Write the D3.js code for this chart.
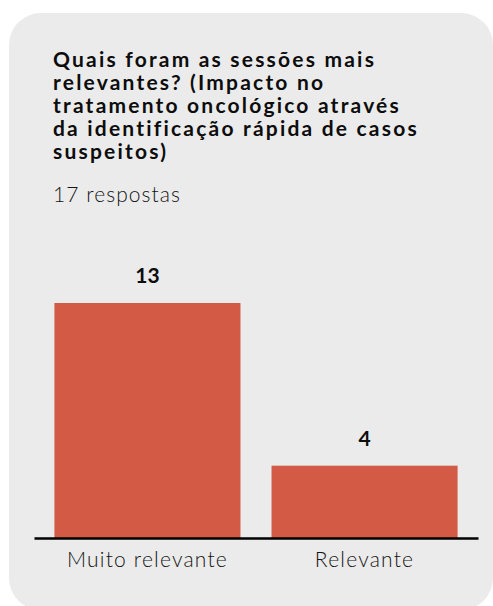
<!DOCTYPE html>
<html>
<head>
<meta charset="utf-8">
<script src="https://cdn.jsdelivr.net/npm/d3@7"></script>
<style>
	body { margin: 0; background: #fff; }
	svg { display: block; }
</style>
</head>
<body>
<div id="container"></div>
<script>
const titleLines = [
	'Quais foram as sessões mais',
	'relevantes? (Impacto no',
	'tratamento oncológico através',
	'da identificação rápida de casos',
	'suspeitos)'
];
const subtitle = '17 respostas';
const categories = ['Muito relevante', 'Relevante'];
const values = [13, 4];

const W = 493, H = 606;
const FONT = 'Lato, "Open Sans", sans-serif';
const BASELINE = 538;

// widen a text with letter spacing so that its widest line spans the wanted width
function fitWidth(sel, target, measure) {
	let w = 0, n = 1;
	(measure || sel).each(function() {
		const l = this.getComputedTextLength();
		if (l > w) { w = l; n = this.textContent.length; }
	});
	sel.attr('letter-spacing', Math.max(0, (target - w) / n).toFixed(2));
}

const svg = d3.select('#container').append('svg')
	.attr('width', W)
	.attr('height', H);

// card
svg.append('rect')
	.attr('x', 9)
	.attr('y', 13)
	.attr('width', 484)
	.attr('height', 597)
	.attr('rx', 32)
	.attr('fill', '#ebebeb');

// title
const title = svg.append('g')
	.attr('font-family', FONT)
	.attr('font-weight', 700)
	.attr('font-size', 21)
	.attr('fill', '#0d0d0d');
const lines = title.selectAll('text')
	.data(titleLines)
	.join('text')
	.attr('x', 53)
	.attr('y', (d, i) => 67 + i * 23)
	.text(d => d);
fitWidth(title, 366, lines);

const sub = svg.append('text')
	.attr('x', 53)
	.attr('y', 202)
	.attr('font-family', FONT)
	.attr('font-weight', 300)
	.attr('font-size', 21)
	.attr('fill', '#141414')
	.text(subtitle);
fitWidth(sub, 128);

const x = d3.scaleBand()
	.domain(categories)
	.range([34, 478])
	.paddingInner(0.143)
	.paddingOuter(0.094);

const y = d3.scaleLinear()
	.domain([0, d3.max(values)])
	.range([BASELINE, BASELINE - 235]);

const data = categories.map((c, i) => ({cat: c, value: values[i]}));

svg.append('g').selectAll('rect')
	.data(data)
	.join('rect')
	.attr('x', d => x(d.cat))
	.attr('y', d => y(d.value))
	.attr('width', x.bandwidth())
	.attr('height', d => y(0) - y(d.value))
	.attr('fill', '#d35a45');

svg.append('g').selectAll('text')
	.data(data)
	.join('text')
	.attr('x', d => x(d.cat) + x.bandwidth() / 2)
	.attr('y', d => y(d.value) - 20)
	.attr('text-anchor', 'middle')
	.attr('font-family', FONT)
	.attr('font-weight', 700)
	.attr('font-size', 21)
	.attr('fill', '#0d0d0d')
	.text(d => d.value);

const axis = svg.append('g')
	.attr('transform', `translate(0,${BASELINE})`)
	.call(d3.axisBottom(x).tickSize(0).tickSizeOuter(0).tickPadding(14));
axis.select('.domain')
	.attr('stroke', '#000')
	.attr('stroke-width', 2.5);
const ticks = axis.selectAll('text')
	.attr('font-family', FONT)
	.attr('font-weight', 300)
	.attr('font-size', 21)
	.attr('fill', '#141414');
fitWidth(ticks, 161, ticks.filter(d => d === categories[0]));
</script>
</body>
</html>
